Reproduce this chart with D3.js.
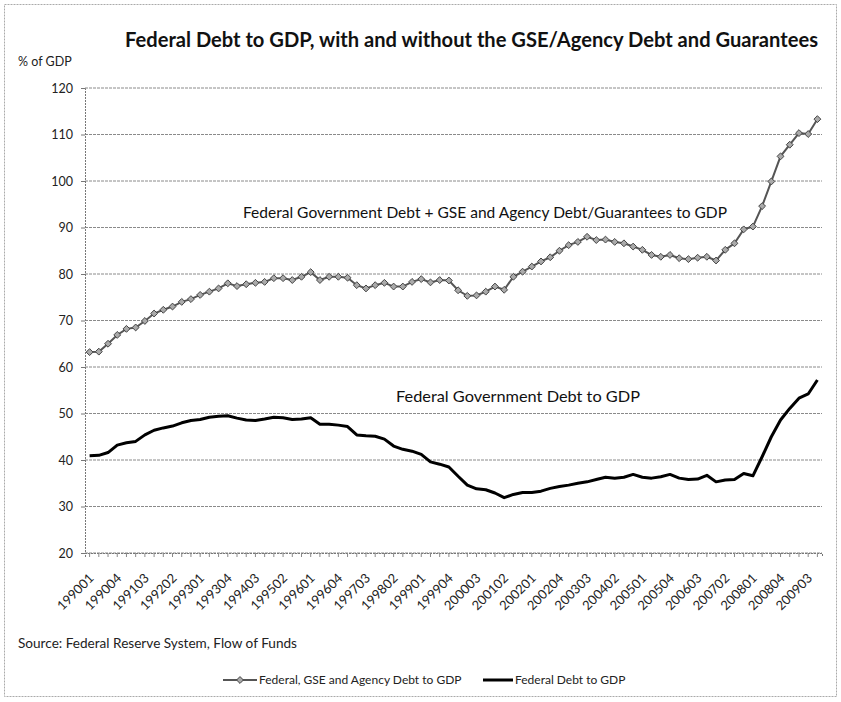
<!DOCTYPE html>
<html><head><meta charset="utf-8">
<script src="https://cdn.jsdelivr.net/npm/d3@7"></script>
<style>body{margin:0;background:#fff;} svg{display:block;}</style>
</head><body>
<svg id="c" width="841" height="702"></svg>
<script>
const quarters = [];
for (let y = 1990; y <= 2009; y++) for (let q = 1; q <= 4; q++) quarters.push(String(y) + "0" + q);
const tickLabels = ["199001","199004","199103","199202","199301","199304","199403","199502","199601","199604","199703","199802","199901","199904","200003","200102","200201","200204","200303","200402","200501","200504","200603","200702","200801","200804","200903"];
const gseDebt = [63.2,63.3,65.0,66.9,68.2,68.5,69.9,71.5,72.3,73.0,74.0,74.6,75.5,76.2,76.9,78.0,77.4,77.8,78.1,78.3,79.1,79.1,78.7,79.4,80.4,78.7,79.4,79.4,79.2,77.6,76.9,77.6,78.1,77.3,77.3,78.3,78.9,78.2,78.7,78.6,76.5,75.3,75.4,76.2,77.3,76.6,79.4,80.5,81.6,82.7,83.6,85.0,86.2,86.9,88.0,87.3,87.4,86.9,86.6,85.9,85.2,84.1,83.7,84.1,83.4,83.2,83.5,83.7,82.9,85.2,86.6,89.6,90.2,94.6,99.9,105.3,107.8,110.3,110.1,113.3];
const fedDebt = [40.9,41.0,41.6,43.2,43.7,44.0,45.4,46.4,46.9,47.3,48.0,48.5,48.7,49.2,49.4,49.5,49.0,48.6,48.5,48.8,49.2,49.1,48.7,48.8,49.1,47.7,47.7,47.5,47.2,45.4,45.2,45.1,44.5,43.0,42.3,41.9,41.2,39.6,39.1,38.5,36.5,34.6,33.8,33.6,32.9,31.9,32.6,33.0,33.0,33.3,33.9,34.3,34.6,35.0,35.3,35.8,36.3,36.1,36.3,36.9,36.3,36.1,36.4,36.9,36.1,35.8,35.9,36.7,35.3,35.7,35.8,37.1,36.6,40.7,45.0,48.6,51.1,53.3,54.2,57.2];
const yTicks = [20,30,40,50,60,70,80,90,100,110,120];

const svg = d3.select("#c");
const font = "Lato, 'Open Sans', sans-serif";
// outer border
svg.append("rect").attr("x",4.5).attr("y",4.5).attr("width",832).attr("height",692)
  .attr("fill","none").attr("stroke","#aaa").attr("stroke-dasharray","2,1");

const L = 85, R = 822, T = 88, B = 553;
const x = d3.scaleBand().domain(quarters).range([L, R]);
const y = d3.scaleLinear().domain([20,120]).range([B, T]);

// gridlines
svg.append("g").selectAll("line").data(yTicks).join("line")
  .attr("x1",L).attr("x2",R).attr("y1",d=>y(d)).attr("y2",d=>y(d))
  .attr("stroke","#8a8a8a").attr("stroke-width",1).attr("stroke-dasharray","3,1");

// y axis
const ya = svg.append("g").attr("transform",`translate(${L},0)`)
  .call(d3.axisLeft(y).tickValues(yTicks).tickSize(4).tickPadding(8));
ya.select(".domain").attr("stroke","#777").attr("stroke-dasharray","2,1");
ya.selectAll(".tick line").attr("stroke","#777");
ya.selectAll("text").attr("font-family",font).attr("font-size",12.5).attr("fill","#222");

// x axis
const xa = svg.append("g").attr("transform",`translate(0,${B})`)
  .call(d3.axisBottom(x).tickValues(quarters).tickSize(4).tickFormat(""));
xa.select(".domain").attr("stroke","#777").attr("stroke-dasharray","2,1");
xa.selectAll(".tick line").attr("stroke","#888");
svg.append("g").selectAll("text").data(tickLabels).join("text")
  .attr("transform",d=>`translate(${x(d)+x.bandwidth()/2+5},${B+26}) rotate(-45)`)
  .attr("text-anchor","end")
  .attr("font-family",font).attr("font-size",13).attr("fill","#222").text(d=>d);

// lines
const lineGen = arr => d3.line().x((d,i)=>x(quarters[i])+x.bandwidth()/2).y(d=>y(d))(arr);
svg.append("path").attr("d",lineGen(gseDebt)).attr("fill","none")
  .attr("stroke","#555").attr("stroke-width",2);
svg.append("g").selectAll("path").data(gseDebt).join("path")
  .attr("d",d3.symbol().type(d3.symbolDiamond2).size(30))
  .attr("transform",(d,i)=>`translate(${x(quarters[i])+x.bandwidth()/2},${y(d)})`)
  .attr("fill","#aaa").attr("stroke","#444").attr("stroke-width",1);
svg.append("path").attr("d",lineGen(fedDebt)).attr("fill","none")
  .attr("stroke","#000").attr("stroke-width",3).attr("stroke-linejoin","round");

// title and texts
svg.append("text").attr("x",125).attr("y",47)
  .attr("font-family",font).attr("font-weight","bold").attr("font-size",20).attr("fill","#111")
  .attr("textLength",693).attr("lengthAdjust","spacingAndGlyphs")
  .text("Federal Debt to GDP, with and without the GSE/Agency Debt and Guarantees");
svg.append("text").attr("x",18).attr("y",66).attr("font-family",font).attr("font-size",12.5).attr("fill","#222").text("% of GDP");
svg.append("text").attr("x",243).attr("y",218)
  .attr("font-family",font).attr("font-size",15).attr("fill","#111")
  .attr("textLength",484).attr("lengthAdjust","spacingAndGlyphs")
  .text("Federal Government Debt + GSE and Agency Debt/Guarantees to GDP");
svg.append("text").attr("x",396).attr("y",402)
  .attr("font-family",font).attr("font-size",15).attr("fill","#111")
  .attr("textLength",244).attr("lengthAdjust","spacingAndGlyphs")
  .text("Federal Government Debt to GDP");
svg.append("text").attr("x",18).attr("y",648).attr("font-family",font).attr("font-size",13).attr("fill","#222")
  .attr("textLength",279).attr("lengthAdjust","spacingAndGlyphs")
  .text("Source: Federal Reserve System, Flow of Funds");

// legend
const lg = svg.append("g");
lg.append("line").attr("x1",223).attr("x2",257).attr("y1",680).attr("y2",680).attr("stroke","#555").attr("stroke-width",2);
lg.append("path").attr("d",d3.symbol().type(d3.symbolDiamond2).size(30)).attr("transform","translate(240,680)")
  .attr("fill","#aaa").attr("stroke","#444");
lg.append("text").attr("x",259).attr("y",684).attr("font-family",font).attr("font-size",12).attr("fill","#222")
  .text("Federal, GSE and Agency Debt to GDP");
lg.append("line").attr("x1",483).attr("x2",513).attr("y1",680).attr("y2",680).attr("stroke","#000").attr("stroke-width",3);
lg.append("text").attr("x",515).attr("y",684).attr("font-family",font).attr("font-size",12).attr("fill","#222")
  .text("Federal Debt to GDP");
</script>
</body></html>
